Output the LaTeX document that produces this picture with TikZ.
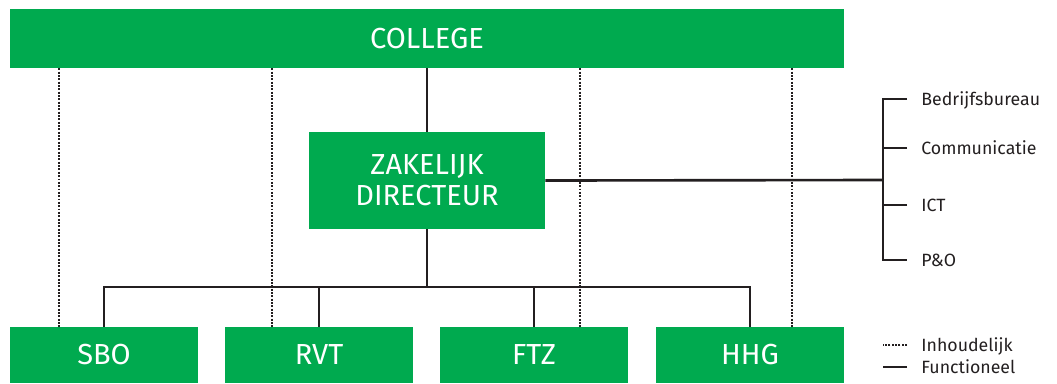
\documentclass[tikz,border=0pt]{standalone}
\usepackage{fontspec}
\setmainfont{Fira Sans}
\usetikzlibrary{positioning}
\definecolor{hgreen}{RGB}{0,170,79}
\definecolor{ink}{RGB}{35,31,32}

\begin{document}
\begin{tikzpicture}[x=0.02cm, y=-0.02cm,
    box/.style={fill=hgreen, text=white, inner sep=0pt, font=\fontsize{16.5}{17.5}\selectfont},
    bottombox/.style={box, minimum width=3.76cm, minimum height=1.12cm},
    conn/.style={line width=1.5pt, ink},
    dots/.style={line width=1.4pt, ink, dash pattern=on 1.1pt off 0.8pt},
    lab/.style={anchor=west, inner sep=0pt, text height=0.69em, text depth=0pt, text=ink, font=\fontsize{10.1}{11}\selectfont}]
    \useasboundingbox (0,0) rectangle (1057,383);

    \node[box, minimum width=16.68cm, minimum height=1.18cm] (college) at (427,38.5) {COLLEGE};
    \node[box, minimum width=4.72cm, minimum height=1.94cm, align=center] (zd) at (427,180.5) {ZAKELIJK\\DIRECTEUR};

    \foreach \name/\x/\txt in {sbo/104/SBO, rvt/319/RVT, ftz/534/FTZ, hhg/750/HHG} {
        \node[bottombox] (\name) at (\x,355) {\txt};
    }

    % inhoudelijk
    \foreach \x in {59,272,580,792} {
        \coordinate (dl) at (\x,0);
        \draw[dots] (college.south -| dl) -- (sbo.north -| dl);
    }

    % functioneel
    \coordinate (split) at (427,287);
    \draw[conn] (college.south) -- (zd.north);
    \draw[conn] (zd.south) -- (split);
    \draw[conn] (sbo.north) -- (sbo.north |- split) -- (hhg.north |- split) -- (hhg.north);
    \foreach \name in {rvt, ftz} {
        \draw[conn] (\name.north) -- (\name.north |- split);
    }

    % staf
    \node[lab] (bb) at (921,99) {Bedrijfsbureau};
    \node[lab] (comm) at (921,148) {Communicatie};
    \node[lab] (ict) at (921,205) {ICT};
    \node[lab] (po) at (921,260) {P\&O};

    \coordinate (brk) at (883,180);
    \draw[conn] (zd.east) -- (brk);
    \draw[conn] ([xshift=-0.28cm]bb.west) -| (brk |- po.west) -- ([xshift=-0.28cm]po.west);
    \foreach \name in {comm, ict} {
        \draw[conn] ([xshift=-0.28cm]\name.west) -- (brk |- \name.west);
    }

    % legenda
    \node[lab] (inh) at (921,345) {Inhoudelijk};
    \node[lab] (fun) at (921,367) {Functioneel};
    \draw[dots] ([xshift=-0.28cm]inh.west) -- ++(-24,0);
    \draw[conn] ([xshift=-0.28cm]fun.west) -- ++(-24,0);
\end{tikzpicture}
\end{document}
